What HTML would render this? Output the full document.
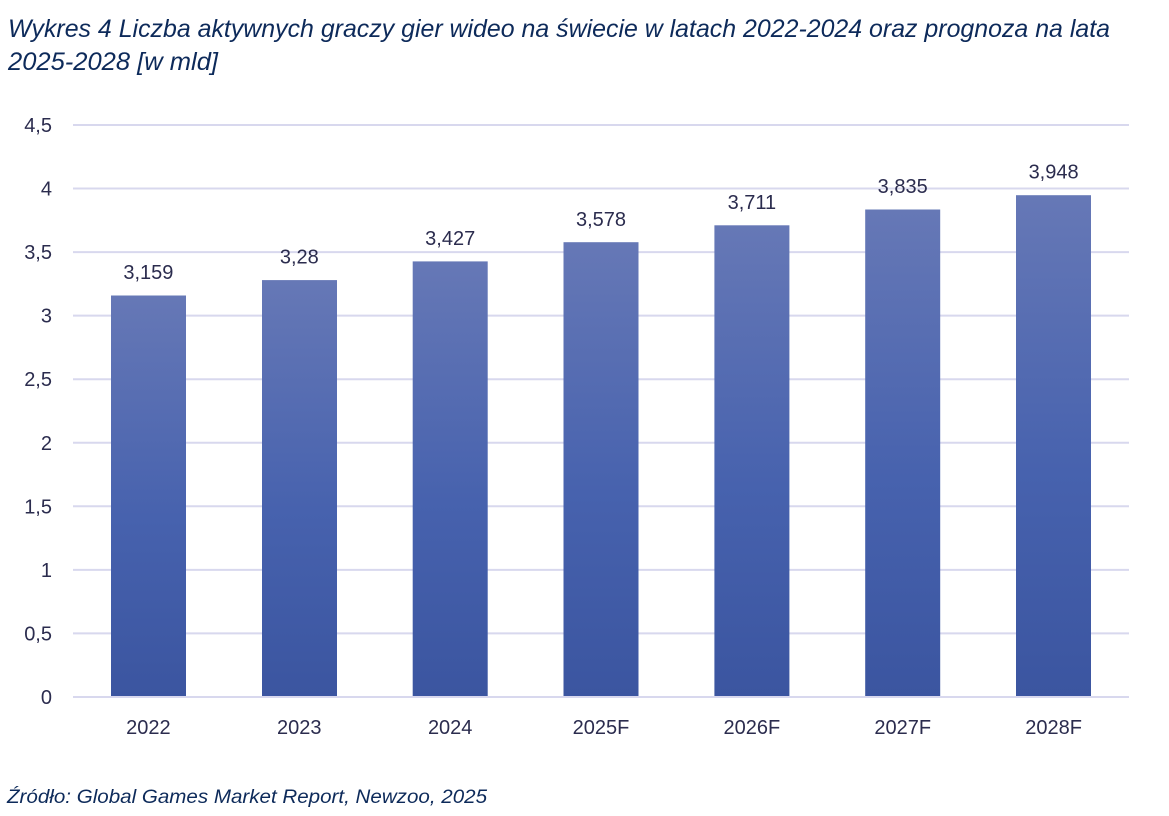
<!DOCTYPE html>
<html>
<head>
<meta charset="utf-8">
<style>
  html, body { margin: 0; padding: 0; background: #ffffff; }
  svg { display: block; }
  .title { font-family: "Liberation Sans", sans-serif; font-style: italic; font-size: 25px; fill: #0d2a5a; }
  .src { font-family: "Liberation Sans", sans-serif; font-style: italic; font-size: 19px; fill: #0d2a5a; }
  .ax { font-family: "Liberation Sans", sans-serif; font-size: 20px; fill: #2b2c4e; }
</style>
</head>
<body>
<svg width="1169" height="816" viewBox="0 0 1169 816" xmlns="http://www.w3.org/2000/svg">
  <defs>
    <linearGradient id="g" x1="0" y1="0" x2="0" y2="1">
      <stop offset="0" stop-color="#6678b6"/>
      <stop offset="0.55" stop-color="#4762ae"/>
      <stop offset="1" stop-color="#3b55a0"/>
    </linearGradient>
  </defs>
  <rect width="1169" height="816" fill="#ffffff"/>

  <text class="title" x="8" y="37" textLength="1102" lengthAdjust="spacingAndGlyphs">Wykres 4 Liczba aktywnych graczy gier wideo na świecie w latach 2022-2024 oraz prognoza na lata</text>
  <text class="title" x="8" y="70" textLength="210" lengthAdjust="spacingAndGlyphs">2025-2028 [w mld]</text>

  <!-- gridlines -->
  <g stroke="#d8d8ee" stroke-width="2">
    <line x1="73" x2="1129" y1="125" y2="125"/>
    <line x1="73" x2="1129" y1="188.5" y2="188.5"/>
    <line x1="73" x2="1129" y1="252.1" y2="252.1"/>
    <line x1="73" x2="1129" y1="315.6" y2="315.6"/>
    <line x1="73" x2="1129" y1="379.2" y2="379.2"/>
    <line x1="73" x2="1129" y1="442.8" y2="442.8"/>
    <line x1="73" x2="1129" y1="506.3" y2="506.3"/>
    <line x1="73" x2="1129" y1="569.9" y2="569.9"/>
    <line x1="73" x2="1129" y1="633.4" y2="633.4"/>
  </g>

  <!-- y labels -->
  <g class="ax" text-anchor="end">
    <text x="52" y="132">4,5</text>
    <text x="52" y="195.5">4</text>
    <text x="52" y="259">3,5</text>
    <text x="52" y="322.6">3</text>
    <text x="52" y="386.2">2,5</text>
    <text x="52" y="449.8">2</text>
    <text x="52" y="513.3">1,5</text>
    <text x="52" y="576.9">1</text>
    <text x="52" y="640.4">0,5</text>
    <text x="52" y="704">0</text>
  </g>

  <!-- bars -->
  <rect x="111" y="295.5" width="75" height="401.5" fill="url(#g)"/>
  <rect x="262" y="280.1" width="75" height="416.9" fill="url(#g)"/>
  <rect x="412.7" y="261.4" width="75" height="435.6" fill="url(#g)"/>
  <rect x="563.5" y="242.2" width="75" height="454.8" fill="url(#g)"/>
  <rect x="714.4" y="225.3" width="75" height="471.7" fill="url(#g)"/>
  <rect x="865.2" y="209.5" width="75" height="487.5" fill="url(#g)"/>
  <rect x="1016" y="195.2" width="75" height="501.8" fill="url(#g)"/>

  <!-- baseline -->
  <line x1="73" x2="1129" y1="697" y2="697" stroke="#d8d8ee" stroke-width="2"/>

  <!-- data labels -->
  <g class="ax" text-anchor="middle">
    <text x="148.4" y="279">3,159</text>
    <text x="299.3" y="263.5">3,28</text>
    <text x="450.2" y="245">3,427</text>
    <text x="601" y="225.8">3,578</text>
    <text x="751.9" y="208.8">3,711</text>
    <text x="902.7" y="193">3,835</text>
    <text x="1053.6" y="178.7">3,948</text>
  </g>

  <!-- x labels -->
  <g class="ax" text-anchor="middle">
    <text x="148.4" y="734">2022</text>
    <text x="299.3" y="734">2023</text>
    <text x="450.2" y="734">2024</text>
    <text x="601" y="734">2025F</text>
    <text x="751.9" y="734">2026F</text>
    <text x="902.7" y="734">2027F</text>
    <text x="1053.6" y="734">2028F</text>
  </g>

  <text class="src" x="7" y="803" textLength="480" lengthAdjust="spacingAndGlyphs">Źródło: Global Games Market Report, Newzoo, 2025</text>
</svg>
</body>
</html>
